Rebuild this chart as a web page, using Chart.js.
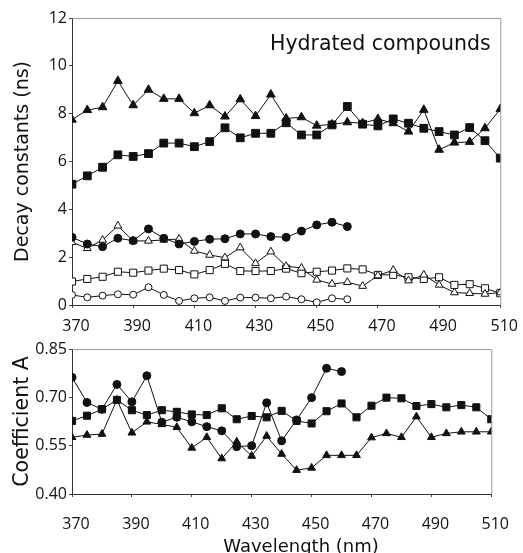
<!DOCTYPE html>
<html><head><meta charset="utf-8">
<script src="https://cdn.jsdelivr.net/npm/chart.js@4"></script>
<style>
html,body{margin:0;padding:0;background:#fff;overflow:hidden;width:523px;height:553px;}
#c1{position:absolute;left:0;top:0;width:523px;height:335px;}
#c2{position:absolute;left:0;top:335px;width:523px;height:235px;}
</style></head><body>
<canvas id="c1" width="523" height="335"></canvas>
<canvas id="c2" width="523" height="235"></canvas>
<script>
// ---- data ----
const wavelengths = [370,375,380,385,390,395,400,405,410,415,420,425,430,435,440,445,450,455,460,465,470,475,480,485,490,495,500,505,510];
const xTickLabels = [370,390,410,430,450,470,490,510];
const yTicksDecay = [0,2,4,6,8,10,12];
const yTicksCoef = [0.40,0.55,0.70,0.85];

// Decay constants (ns)
const decayTriFilled = [7.75,8.15,8.27,9.37,8.35,9.0,8.62,8.62,8.02,8.35,7.88,8.6,7.9,8.8,7.8,7.85,7.5,7.55,7.64,7.6,7.78,7.6,7.25,8.16,6.49,6.79,6.82,7.39,8.19];
const decaySqFilled = [5.05,5.4,5.76,6.28,6.21,6.33,6.77,6.77,6.62,6.83,7.41,6.99,7.18,7.18,7.62,7.11,7.11,7.53,8.3,7.56,7.49,7.78,7.6,7.39,7.25,7.11,7.42,6.87,6.14];
const decayCircFilled = [2.83,2.55,2.44,2.79,2.69,3.18,2.79,2.55,2.66,2.75,2.77,2.97,2.97,2.86,2.83,3.09,3.35,3.46,3.28];
const decayTriOpen = [2.62,2.37,2.72,3.31,2.68,2.68,2.72,2.76,2.26,2.09,1.98,2.4,1.74,2.23,1.62,1.55,1.05,0.88,0.95,0.79,1.23,1.46,1.02,1.26,0.84,0.52,0.49,0.46,0.52];
const decaySqOpen = [0.98,1.09,1.18,1.39,1.35,1.44,1.52,1.46,1.28,1.46,1.72,1.42,1.42,1.42,1.52,1.33,1.39,1.44,1.53,1.49,1.26,1.26,1.16,1.09,1.16,0.84,0.87,0.7,0.49];
const decayCircOpen = [0.42,0.32,0.39,0.45,0.43,0.74,0.42,0.17,0.28,0.32,0.17,0.31,0.31,0.28,0.35,0.24,0.11,0.28,0.24];

// Coefficient A
const coefCirc = [0.762,0.684,0.663,0.74,0.686,0.767,0.623,0.638,0.624,0.609,0.596,0.547,0.55,0.683,0.565,0.63,0.699,0.79,0.78];
const coefSq = [0.627,0.643,0.663,0.692,0.66,0.645,0.66,0.655,0.647,0.645,0.666,0.632,0.642,0.638,0.658,0.627,0.619,0.657,0.681,0.638,0.674,0.699,0.697,0.673,0.679,0.669,0.676,0.669,0.632];
const coefTri = [0.576,0.583,0.586,0.692,0.59,0.624,0.616,0.607,0.543,0.576,0.51,0.562,0.518,0.58,0.524,0.474,0.481,0.52,0.52,0.52,0.575,0.588,0.576,0.64,0.576,0.588,0.593,0.593,0.593];

const TICK_FONT = {family:"'Open Sans', sans-serif", size:16};
const TEXT_FAMILY = "'DejaVu Sans', sans-serif";

function pts(vals){ return vals.map((v,i)=>({x:wavelengths[i], y:v})); }
function ds(vals, style, filled, r){
  return {data:pts(vals), borderColor:'#111', borderWidth:1,
    pointStyle:style, pointRadius:r, pointHoverRadius:r,
    pointBackgroundColor: filled ? '#111' : '#fff',
    pointBorderColor:'#111', pointBorderWidth:1, tension:0, fill:false};
}

const framePlugin = {
  id:'frame',
  beforeDatasetsDraw(chart){
    const a = chart.chartArea, c = chart.ctx;
    c.save();
    c.strokeStyle = '#9a9a9a'; c.lineWidth = 1;
    c.beginPath();
    c.moveTo(a.left+0.5, a.top+0.5); c.lineTo(a.right+0.5, a.top+0.5); c.lineTo(a.right+0.5, a.bottom);
    c.stroke();
    c.restore();
  }
};
// free text labels (real text drawn on the canvas)
const textPlugin = {
  id:'freeText',
  afterDraw(chart, args, opts){
    const c = chart.ctx;
    c.save();
    c.fillStyle = '#111'; c.textAlign = 'center'; c.textBaseline = 'alphabetic';
    (opts.items || []).forEach(it => {
      c.font = it.size + "px " + TEXT_FAMILY;
      c.textAlign = it.align || 'center';
      c.fillText(it.text, it.x, it.y);
    });
    c.restore();
  }
};

function xScale(height, pad){
  return {
    type:'linear', min:370, max:510,
    afterBuildTicks(sc){ sc.ticks = xTickLabels.map(v=>({value:v})); },
    afterFit(sc){ sc.height = height; },
    grid:{drawOnChartArea:false, drawTicks:true, tickLength:3, color:'#444'},
    border:{color:'#333', width:1},
    ticks:{font:TICK_FONT, color:'#111', padding:pad, maxRotation:0, labelOffset:4, autoSkip:false}
  };
}
function yScale(min, max, tickVals, fmt, title, tsize, tpad){
  return {
    type:'linear', min:min, max:max,
    afterBuildTicks(sc){ sc.ticks = tickVals.map(v=>({value:v})); },
    afterFit(sc){ sc.width = 72; },
    grid:{drawOnChartArea:false, drawTicks:true, tickLength:3, color:'#444'},
    border:{color:'#333', width:1},
    ticks:{font:TICK_FONT, color:'#111', padding:2, callback:fmt},
    title:{display:true, text:title, color:'#111', font:{family:TEXT_FAMILY, size:tsize}, padding:{top:tpad, bottom:0}}
  };
}

const common = {
  responsive:false, animation:false, devicePixelRatio:1,
  elements:{line:{borderJoinStyle:'miter'}}
};

new Chart(document.getElementById('c1'), {
  type:'line',
  data:{datasets:[
    ds(decayTriFilled,'triangle',true,5),
    ds(decaySqFilled,'rect',true,5.5),
    ds(decayCircFilled,'circle',true,4),
    ds(decayTriOpen,'triangle',false,4.5),
    ds(decaySqOpen,'rect',false,5),
    ds(decayCircOpen,'circle',false,3.5)
  ]},
  options:Object.assign({}, common, {
    plugins:{legend:{display:false}, tooltip:{enabled:false},
      freeText:{items:[{text:'Hydrated compounds', x:270, y:50, size:20.5, align:'left'}]}},
    layout:{padding:{top:18, right:21, left:0, bottom:0}},
    scales:{
      x: xScale(30, 9),
      y: yScale(0, 12, yTicksDecay, v=>String(v), 'Decay constants (ns)', 19, 11.5)
    }
  }),
  plugins:[framePlugin, textPlugin]
});

new Chart(document.getElementById('c2'), {
  type:'line',
  data:{datasets:[
    ds(coefCirc,'circle',true,4),
    ds(coefSq,'rect',true,5),
    ds(coefTri,'triangle',true,4.5)
  ]},
  options:Object.assign({}, common, {
    plugins:{legend:{display:false}, tooltip:{enabled:false},
      freeText:{items:[{text:'Wavelength (nm)', x:301, y:217, size:18, align:'center'}]}},
    layout:{padding:{top:14, right:21, left:0, bottom:0}},
    scales:{
      x: xScale(76, 18),
      y: yScale(0.40, 0.85, yTicksCoef, v=>Number(v).toFixed(2), 'Coefficient A', 20.5, 10.5)
    }
  }),
  plugins:[framePlugin, textPlugin]
});
</script>
</body></html>
